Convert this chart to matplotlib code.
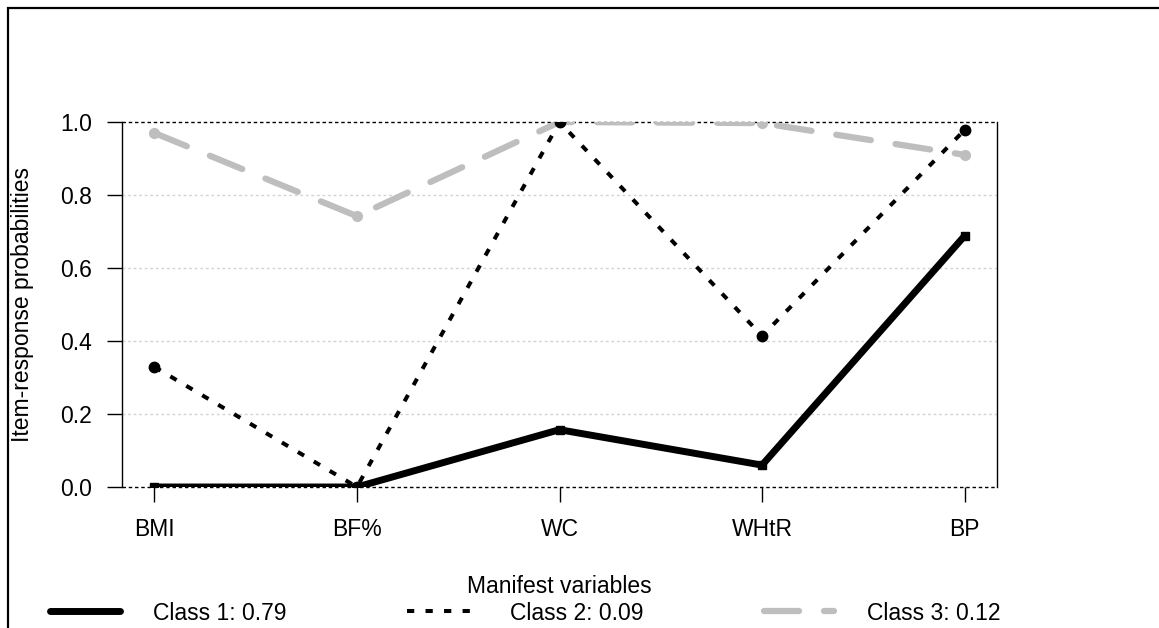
import numpy as np
import matplotlib
matplotlib.use("Agg")
import matplotlib.pyplot as plt
from matplotlib.patches import Rectangle

plt.rcParams['font.family'] = ['Liberation Sans', 'DejaVu Sans']

# item-response probabilities per latent class
variables = ["BMI", "BF%", "WC", "WHtR", "BP"]
class1 = [0.0, 0.0, 0.157, 0.06, 0.688]
class2 = [0.329, 0.0, 1.0, 0.414, 0.978]
class3 = [0.97, 0.742, 1.0, 0.997, 0.91]
class_labels = ["Class 1: 0.79", "Class 2: 0.09", "Class 3: 0.12"]

W, H = 1159, 628
FS = 16.5
fig = plt.figure(figsize=(W / 100, H / 100), dpi=100)
ax = fig.add_axes([122 / W, 1 - 487 / H, (997 - 122) / W, (487 - 122) / H])

x = np.arange(1, len(variables) + 1)

# light dotted guides, black dotted lines at 0 and 1
for yv in [0.2, 0.4, 0.6, 0.8]:
    ax.axhline(yv, color="#d3d3d3", lw=1, ls=(0, (2, 2)), zorder=1)
for yv in [0.0, 1.0]:
    ax.axhline(yv, color="black", lw=1, ls=(0, (2.5, 2)), zorder=1, clip_on=False)

l1, = ax.plot(x, class1, color="black", lw=5, solid_capstyle="round",
              marker="s", ms=6, zorder=4)
l2, = ax.plot(x, class2, color="black", lw=2.9, ls=(0, (1.8, 2.8)),
              marker="o", ms=7.5, zorder=3)
l3, = ax.plot(x, class3, color="#bebebe", lw=4.5, ls=(0, (5.6, 4.0)),
              dash_capstyle="round", marker="o", ms=7, zorder=2)

ax.set_xlim(0.84, 5.16)
ax.set_ylim(0, 1)
ax.set_xticks(x)
ax.set_xticklabels(variables)
ax.set_yticks([0.0, 0.2, 0.4, 0.6, 0.8, 1.0])
ax.set_yticklabels(["0.0", "0.2", "0.4", "0.6", "0.8", "1.0"])
ax.tick_params(axis="both", labelsize=FS, length=10.5, width=1, direction="out")
ax.tick_params(axis="y", pad=11)
ax.tick_params(axis="x", pad=12)

ax.spines["top"].set_visible(False)
ax.spines["bottom"].set_visible(False)
ax.spines["left"].set_linewidth(1)
ax.spines["right"].set_linewidth(1)

ax.set_ylabel("Item-response probabilities", fontsize=FS)
ax.yaxis.set_label_coords(-(122 - 34) / (997 - 122), 0.5)
ax.set_xlabel("Manifest variables", fontsize=FS)
ax.xaxis.set_label_coords(0.5, -(575 - 487) / (487 - 122))

fig.legend([l1, l2, l3], class_labels, loc="center left",
           bbox_to_anchor=(50 / W, 1 - 613 / H), ncol=3, frameon=False,
           fontsize=FS, handlelength=3.05, handletextpad=1.45,
           columnspacing=5.25, borderpad=0, borderaxespad=0,
           markerscale=0)

# outer frame
fig.patches.append(Rectangle((8 / W, -0.2), 1.2, 1.2 - 8 / H, transform=fig.transFigure,
                             fill=False, edgecolor="black", lw=1.6))

fig.savefig("out.png", dpi=100)
